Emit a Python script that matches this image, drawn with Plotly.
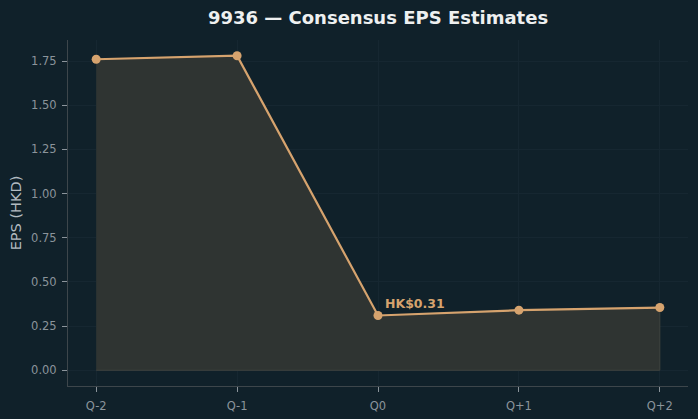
import plotly.graph_objects as go

quarters = ["Q-2", "Q-1", "Q0", "Q+1", "Q+2"]
eps = [1.76, 1.78, 0.31, 0.34, 0.355]
y_ticks = [0.0, 0.25, 0.5, 0.75, 1.0, 1.25, 1.5, 1.75]
title_text = "9936 — Consensus EPS Estimates"
y_title = "EPS (HKD)"
label_text = "HK$0.31"
label_idx = 2

BG = "#10212a"
LINE = "#d6a36e"
FILL = "#2f3432"
GRID = "#162731"
SPINE = "#3d464b"
TICK = "#8b949b"

fig = go.Figure()

# filled area polygon
fig.add_trace(go.Scatter(
    x=quarters + quarters[::-1],
    y=eps + [0] * len(quarters),
    fill="toself", fillcolor=FILL,
    line=dict(color="#3f433f", width=1),
    mode="lines", hoverinfo="skip", showlegend=False,
))

fig.add_trace(go.Scatter(
    x=quarters, y=eps, mode="lines+markers",
    line=dict(color=LINE, width=2.2),
    marker=dict(color=LINE, size=9),
    showlegend=False,
))

fig.add_annotation(
    x=quarters[label_idx], y=eps[label_idx], text=label_text,
    showarrow=False, xanchor="left", yanchor="bottom",
    xshift=5, yshift=2,
    font=dict(family="DejaVu Sans", size=12.5, color=LINE, weight="bold"),
)

fig.update_layout(
    width=698, height=419,
    paper_bgcolor=BG, plot_bgcolor=BG,
    margin=dict(l=68, r=10, t=40, b=33, autoexpand=False),
    title=dict(text=f"<b>{title_text}</b>", x=378 / 698, xanchor="center",
               y=1 - 18 / 419, yanchor="middle",
               font=dict(family="DejaVu Sans", size=18, color="#eef0f0")),
    font=dict(family="DejaVu Sans"),
)

fig.update_xaxes(
    type="category", range=[-0.2, 4.2], automargin=False,
    showgrid=True, gridcolor=GRID, gridwidth=1,
    showline=True, linecolor=SPINE, linewidth=1,
    ticks="outside", ticklen=5, tickcolor=TICK,
    ticklabelstandoff=4,
    tickfont=dict(family="DejaVu Sans", size=11.5, color=TICK),
    zeroline=False,
)
fig.update_yaxes(
    range=[-0.089, 1.869], automargin=False,
    tickvals=y_ticks, ticktext=[f"{v:.2f}" for v in y_ticks],
    showgrid=True, gridcolor=GRID, gridwidth=1,
    showline=True, linecolor=SPINE, linewidth=1,
    ticks="outside", ticklen=5, tickcolor=TICK,
    ticklabelstandoff=3,
    tickfont=dict(family="DejaVu Sans", size=11.5, color=TICK),
    zeroline=False,
    title=dict(text=y_title, font=dict(family="DejaVu Sans", size=14.5, color="#b3bbc1"), standoff=6),
)

fig.write_html("out.html")
